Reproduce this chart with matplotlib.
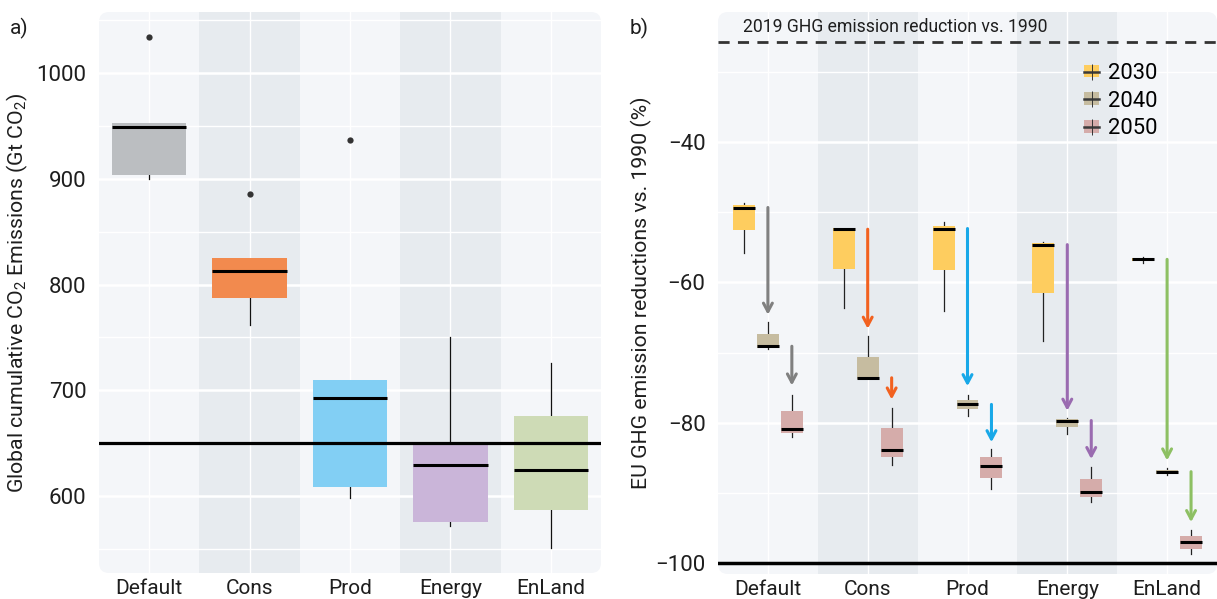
import matplotlib
matplotlib.use('Agg')
import matplotlib.pyplot as plt
from matplotlib.patches import FancyBboxPatch, Patch
from matplotlib.lines import Line2D
from matplotlib.legend_handler import HandlerTuple
from matplotlib.ticker import MultipleLocator, FixedLocator

plt.rcParams['font.family'] = ['Roboto', 'DejaVu Sans']
plt.rcParams['mathtext.fontset'] = 'custom'
plt.rcParams['mathtext.rm'] = 'Roboto'
plt.rcParams['axes.unicode_minus'] = True

# ---------------- data ----------------
scenarios = ['Default', 'Cons', 'Prod', 'Energy', 'EnLand']

# panel a: global cumulative CO2 emissions (Gt CO2)
a_whislo = [900.0, 761.5, 598.4, 571.6, 550.6]
a_q1 = [903.5, 786.8, 608.8, 575.7, 586.8]
a_med = [949.0, 812.7, 692.7, 629.3, 624.6]
a_q3 = [952.7, 825.0, 709.5, 650.0, 675.4]
a_whishi = [952.7, 825.0, 709.5, 750.8, 726.2]
a_fliers = [[1034.0], [886.0], [937.0], [], []]
a_colors = ['#BBBEC1', '#F28A4E', '#82CFF4', '#CAB5D9', '#CEDBB6']
budget_line = 650

# panel b: EU GHG emission reductions vs 1990 (%)
years = ['2030', '2040', '2050']
b_whishi = {
    '2030': [-48.7, -52.2, -51.4, -54.2, -56.3],
    '2040': [-65.7, -67.6, -76.0, -79.3, -86.5],
    '2050': [-76.0, -77.9, -83.8, -86.3, -95.3],
}
b_q3 = {
    '2030': [-48.9, -52.2, -51.9, -54.4, -56.5],
    '2040': [-67.4, -70.7, -76.7, -79.5, -86.8],
    '2050': [-78.4, -80.8, -84.9, -88.1, -96.2],
}
b_med = {
    '2030': [-49.3, -52.4, -52.3, -54.6, -56.7],
    '2040': [-69.1, -73.6, -77.4, -79.7, -87.0],
    '2050': [-80.9, -83.9, -86.2, -89.9, -97.0],
}
b_q1 = {
    '2030': [-52.5, -58.1, -58.2, -61.5, -56.9],
    '2040': [-69.4, -73.8, -78.1, -80.6, -87.3],
    '2050': [-81.5, -84.9, -87.9, -90.6, -98.0],
}
b_whislo = {
    '2030': [-55.8, -63.6, -64.1, -68.3, -57.2],
    '2040': [-69.5, -73.8, -79.0, -81.6, -87.5],
    '2050': [-82.0, -86.0, -89.5, -91.3, -98.8],
}
year_colors = ['#FECD5F', '#C6BCA0', '#D5ACAA']
arrow_colors = ['#808080', '#F2611F', '#18A8E8', '#9A6BB0', '#8DC063']
# arrow end points (tip) for 2030->2040 and 2040->2050
arrow1_end = [-64.6, -66.6, -74.8, -78.3, -85.4]
arrow2_end = [-74.7, -76.7, -82.8, -85.2, -94.2]
ref_2019 = -25.7
target_2050 = -100

# ---------------- styling ----------------
BG = '#F4F6F9'
SHADE = '#E7EBEF'
TXT = '#1E1E1E'

fig = plt.figure(figsize=(12.17, 5.99), dpi=100)
axa = fig.add_axes([99 / 1217, 1 - 573 / 599, 502 / 1217, 561 / 599])
axb = fig.add_axes([718 / 1217, 1 - 574 / 599, 499 / 1217, 562 / 599])


def style_axes(ax, w_px, h_px):
    ax.patch.set_visible(False)
    rs = 0.02
    bg = FancyBboxPatch((0, 0), 1, 1, boxstyle=f'round,pad=0,rounding_size={rs}',
                        transform=ax.transAxes, facecolor=BG, edgecolor='none',
                        mutation_aspect=w_px / h_px, zorder=0)
    ax.add_patch(bg)
    for s in ax.spines.values():
        s.set_visible(False)
    ax.set_xlim(-0.5, 4.5)
    ax.axvspan(0.5, 1.5, color=SHADE, zorder=0.5, lw=0)
    ax.axvspan(2.5, 3.5, color=SHADE, zorder=0.5, lw=0)
    ax.set_xticks(range(len(scenarios)))
    ax.set_xticklabels(scenarios)
    ax.tick_params(which='both', length=0)
    ax.tick_params(axis='y', pad=9, labelsize=16, colors=TXT)
    ax.tick_params(axis='x', pad=4, labelsize=15, colors=TXT)
    ax.yaxis.grid(True, which='major', color='white', lw=1.8, zorder=1)
    ax.yaxis.grid(True, which='minor', color='white', lw=1.0, zorder=1)
    ax.xaxis.grid(True, which='major', color='white', lw=1.0, zorder=1)
    ax.set_axisbelow(True)
    return bg


# ---------------- panel a ----------------
bga = style_axes(axa, 502, 561)
axa.set_ylim(527.2, 1057.7)
axa.yaxis.set_major_locator(MultipleLocator(100))
axa.yaxis.set_minor_locator(MultipleLocator(50))
stats_a = []
for i in range(len(scenarios)):
    stats_a.append(dict(med=a_med[i], q1=a_q1[i], q3=a_q3[i], whislo=a_whislo[i],
                        whishi=a_whishi[i], fliers=a_fliers[i]))
bpa = axa.bxp(stats_a, positions=range(len(scenarios)), widths=0.74, patch_artist=True,
              showcaps=False, manage_ticks=False,
              boxprops=dict(linewidth=0),
              medianprops=dict(color='black', linewidth=2.2, solid_capstyle='butt'),
              whiskerprops=dict(color='#111111', linewidth=0.9),
              flierprops=dict(marker='o', markersize=4.5, markerfacecolor='#333333',
                              markeredgecolor='none'))
for patch, c in zip(bpa['boxes'], a_colors):
    patch.set_facecolor(c)
    patch.set_zorder(2)
for k in ['medians', 'whiskers', 'fliers']:
    for ln in bpa[k]:
        ln.set_zorder(2.5)
for ln in bpa['whiskers']:
    ln.set_zorder(1.9)
axa.axhline(budget_line, color='black', lw=2.3, zorder=3)
axa.set_ylabel('Global cumulative CO$_{\\mathregular{2}}$ Emissions (Gt CO$_{\\mathregular{2}}$)',
               fontsize=15.3, color=TXT)
axa.yaxis.set_label_coords(-0.137, 0.5)

# ---------------- panel b ----------------
bgb = style_axes(axb, 499, 562)
axb.set_ylim(-101.6, -21.4)
axb.yaxis.set_major_locator(FixedLocator([-40, -60, -80, -100]))
axb.yaxis.set_minor_locator(FixedLocator([-30, -50, -70, -90]))
offsets = [-0.24, 0.0, 0.24]
for j, yr in enumerate(years):
    stats_b = []
    for i in range(len(scenarios)):
        stats_b.append(dict(med=b_med[yr][i], q1=b_q1[yr][i], q3=b_q3[yr][i],
                            whislo=b_whislo[yr][i], whishi=b_whishi[yr][i], fliers=[]))
    pos = [i + offsets[j] for i in range(len(scenarios))]
    bp = axb.bxp(stats_b, positions=pos, widths=0.22, patch_artist=True,
                 showcaps=False, showfliers=False, manage_ticks=False,
                 boxprops=dict(linewidth=0),
                 medianprops=dict(color='black', linewidth=2.2, solid_capstyle='butt'),
                 whiskerprops=dict(color='#222222', linewidth=0.9))
    for patch in bp['boxes']:
        patch.set_facecolor(year_colors[j])
        patch.set_zorder(2)
    for ln in bp['medians']:
        ln.set_zorder(2.5)
    for ln in bp['whiskers']:
        ln.set_zorder(1.9)

for i in range(len(scenarios)):
    c = arrow_colors[i]
    axb.annotate('', xy=(i + offsets[1], arrow1_end[i]), xytext=(i + offsets[1], b_med['2030'][i]),
                 arrowprops=dict(arrowstyle='->,head_length=0.6,head_width=0.32', color=c,
                                 lw=2.2, shrinkA=0, shrinkB=0, mutation_scale=10),
                 zorder=2.2)
    axb.annotate('', xy=(i + offsets[2], arrow2_end[i]), xytext=(i + offsets[2], b_med['2040'][i]),
                 arrowprops=dict(arrowstyle='->,head_length=0.6,head_width=0.32', color=c,
                                 lw=2.2, shrinkA=0, shrinkB=0, mutation_scale=10),
                 zorder=2.2)

axb.axhline(target_2050, color='black', lw=2.5, zorder=3)
axb.axhline(ref_2019, color='#333333', lw=2.0, ls=(0, (4, 3)), zorder=3)
axb.text(-0.245, -23.6, '2019 GHG emission reduction vs. 1990', fontsize=12.7,
         color=TXT, va='center', ha='left', zorder=4)
axb.set_ylabel('EU GHG emission reductions vs. 1990 (%)', fontsize=15.3, color=TXT)
axb.yaxis.set_label_coords(-0.132, 0.5)

handles = []
for c in year_colors:
    handles.append((Patch(facecolor=c, edgecolor='none'),
                    Line2D([], [], color='#3a3a3a', lw=1.8),
                    Line2D([], [], marker='|', ls='none', color='#333333', markersize=12,
                           markeredgewidth=0.7)))
axb.legend(handles, years, handler_map={tuple: HandlerTuple(ndivide=1, pad=0)},
           loc='upper left', bbox_to_anchor=(0.716, 0.925), frameon=False,
           fontsize=15.8, handlelength=0.7, handleheight=0.5, handletextpad=0.4,
           labelspacing=0.3, borderaxespad=0)

fig.text(10 / 1217, 1 - 28 / 599, 'a)', fontsize=15, color=TXT, va='center', ha='left')
fig.text(630 / 1217, 1 - 28 / 599, 'b)', fontsize=15, color=TXT, va='center', ha='left')

fig.savefig('out.png', dpi=100)
